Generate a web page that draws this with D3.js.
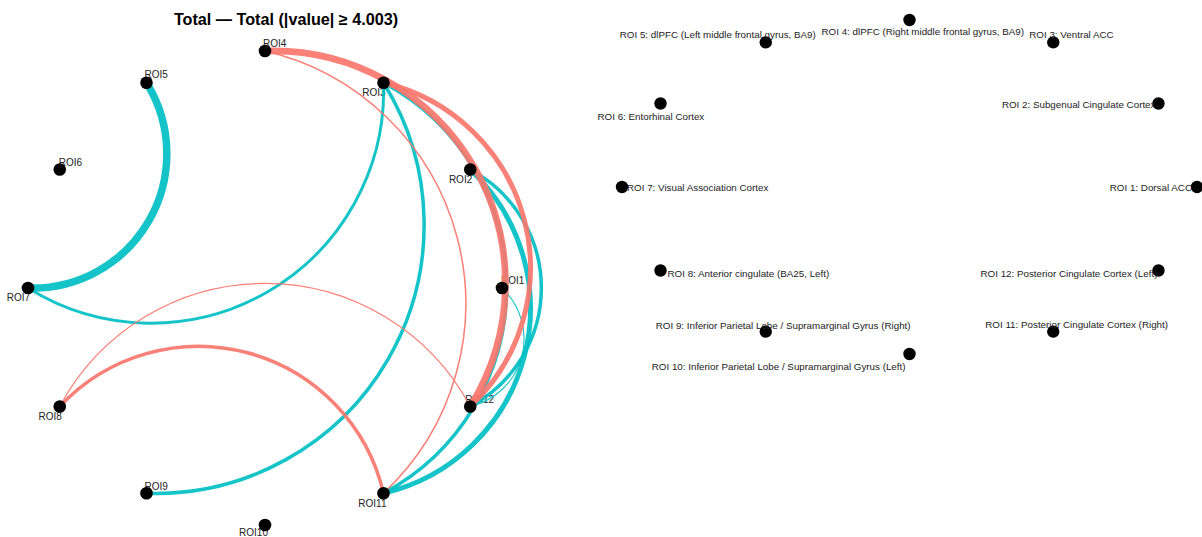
<!DOCTYPE html>
<html>
<head>
<meta charset="utf-8">
<script src="https://cdn.jsdelivr.net/npm/d3@7"></script>
<style>
  html, body { margin: 0; padding: 0; background: #ffffff; }
  svg { display: block; font-family: "Liberation Sans", Arial, sans-serif; }
</style>
</head>
<body>
<svg id="chart" width="1202" height="537"></svg>
<script>
// ---- data ---------------------------------------------------------------
const roiShort = ["ROI1","ROI2","ROI3","ROI4","ROI5","ROI6","ROI7","ROI8","ROI9","ROI10","ROI11","ROI12"];
const roiNames = [
  "ROI 1: Dorsal ACC",
  "ROI 2: Subgenual Cingulate Cortex",
  "ROI 3: Ventral ACC",
  "ROI 4: dlPFC (Right middle frontal gyrus, BA9)",
  "ROI 5: dlPFC (Left middle frontal gyrus, BA9)",
  "ROI 6: Entorhinal Cortex",
  "ROI 7: Visual Association Cortex",
  "ROI 8: Anterior cingulate (BA25, Left)",
  "ROI 9: Inferior Parietal Lobe / Supramarginal Gyrus (Right)",
  "ROI 10: Inferior Parietal Lobe / Supramarginal Gyrus (Left)",
  "ROI 11: Posterior Cingulate Cortex (Right)",
  "ROI 12: Posterior Cingulate Cortex (Left)"
];
// surviving connections (1-based ROI indices) and their statistic
const edgeFrom  = [5, 3, 3, 3, 2, 2, 1, 4, 3, 4, 8, 8];
const edgeTo    = [7, 7, 9, 11, 11, 12, 12, 12, 12, 11, 11, 12];
const edgeValue = [-7.6, -5.1, -5.4, -5.4, -6.2, -5.4, -4.05, 7.2, 6.2, 4.3, 5.4, 4.15];
const threshold = 4.003;
const titleText = "Total \u2014 Total (|value| \u2265 " + threshold.toFixed(3) + ")";

// ---- layout helpers ------------------------------------------------------
// label placement for the network panel: [anchor, dx, dy]
const netLabelPos = [
  ["start", -1, -4], ["end", 2, 13], ["end", 2, 13], ["start", -2, -4],
  ["start", -2, -5], ["start", -1, -4], ["end", 2, 13], ["end", 2, 13],
  ["start", -2, -3], ["end", 3, 11], ["end", 3, 14], ["start", -5, -4]
];
// label placement for the name panel: [anchor, dx, dy]
const nameLabelPos = [
  ["end", -5, 4], ["end", -3, 4], ["start", -24, -4], ["start", -88, 15],
  ["start", -146, -4], ["start", -63, 16], ["start", 5, 4], ["start", 7, 6],
  ["start", -110, -3], ["end", -4, 16], ["start", -68, -4], ["end", -1, 6]
];

const svg = d3.select("#chart");
const n = roiShort.length;
const angle = i => i * 2 * Math.PI / n;          // ROI1 at 3 o'clock, counter-clockwise
const nodes = roiShort.map((id, i) => ({
  id, name: roiNames[i],
  ux: Math.cos(angle(i)), uy: Math.sin(angle(i))
}));

// network panel scales
const xNet = d3.scaleLinear().domain([-1, 1]).range([28, 502]);
const yNet = d3.scaleLinear().domain([-1, 1]).range([525, 51]);
// name panel scales
const xName = d3.scaleLinear().domain([-1, 1]).range([622, 1197]);
const yName = d3.scaleLinear().domain([-1, 1]).range([354, 20]);

const widthScale = d3.scaleLinear().domain([4, 8]).range([1, 8.2]);
const colorScale = d3.scaleOrdinal().domain(["pos", "neg"]).range(["#F8766D", "#00BFC4"]);

const edges = edgeFrom.map((f, k) => ({
  source: nodes[f - 1], target: nodes[edgeTo[k] - 1], value: edgeValue[k]
})).filter(e => Math.abs(e.value) >= threshold);

// circular arc from source to target, bending to the left of travel
const bend = 0.6;
function arcPath(e) {
  const ax = xNet(e.source.ux), ay = yNet(e.source.uy);
  const bx = xNet(e.target.ux), by = yNet(e.target.uy);
  const dx = bx - ax, dy = by - ay, L = Math.hypot(dx, dy);
  const c = L / 2, h = bend * c;
  const R = (c * c + h * h) / (2 * h);
  const nx = dy / L, ny = -dx / L;
  const mx = (ax + bx) / 2, my = (ay + by) / 2;
  const cx = mx + (h - R) * nx, cy = my + (h - R) * ny;
  const a0 = Math.atan2(ay - cy, ax - cx), a1 = Math.atan2(by - cy, bx - cx);
  let d = a1 - a0;
  while (d > Math.PI) d -= 2 * Math.PI;
  while (d <= -Math.PI) d += 2 * Math.PI;
  const p = d3.path();
  p.moveTo(ax, ay);
  p.arc(cx, cy, R, a0, a0 + d, d < 0);
  return p.toString();
}

// ---- network panel -------------------------------------------------------
const net = svg.append("g").attr("class", "network");

net.append("text")
  .attr("x", 286).attr("y", 25)
  .attr("text-anchor", "middle")
  .attr("font-size", 16.2).attr("font-weight", "bold").attr("fill", "#000")
  .text(titleText);

net.append("g").selectAll("text").data(nodes).join("text")
  .attr("x", (d, i) => xNet(d.ux) + netLabelPos[i][1])
  .attr("y", (d, i) => yNet(d.uy) + netLabelPos[i][2])
  .attr("text-anchor", (d, i) => netLabelPos[i][0])
  .attr("font-size", 10).attr("fill", "#222")
  .text(d => d.id);

net.append("g").attr("fill", "none").selectAll("path").data(edges).join("path")
  .attr("d", arcPath)
  .attr("stroke", d => colorScale(d.value > 0 ? "pos" : "neg"))
  .attr("stroke-width", d => widthScale(Math.abs(d.value)))
  .attr("stroke-opacity", 0.92);

net.append("g").selectAll("circle").data(nodes).join("circle")
  .attr("cx", d => xNet(d.ux)).attr("cy", d => yNet(d.uy))
  .attr("r", 6.3).attr("fill", "#000");

// ---- name panel ----------------------------------------------------------
const names = svg.append("g").attr("class", "names");

names.append("g").selectAll("circle").data(nodes).join("circle")
  .attr("cx", d => xName(d.ux)).attr("cy", d => yName(d.uy))
  .attr("r", 6.2).attr("fill", "#000");

names.append("g").selectAll("text").data(nodes).join("text")
  .attr("x", (d, i) => xName(d.ux) + nameLabelPos[i][1])
  .attr("y", (d, i) => yName(d.uy) + nameLabelPos[i][2])
  .attr("text-anchor", (d, i) => nameLabelPos[i][0])
  .attr("font-size", 9.8).attr("fill", "#222")
  .text(d => d.name);
</script>
</body>
</html>
